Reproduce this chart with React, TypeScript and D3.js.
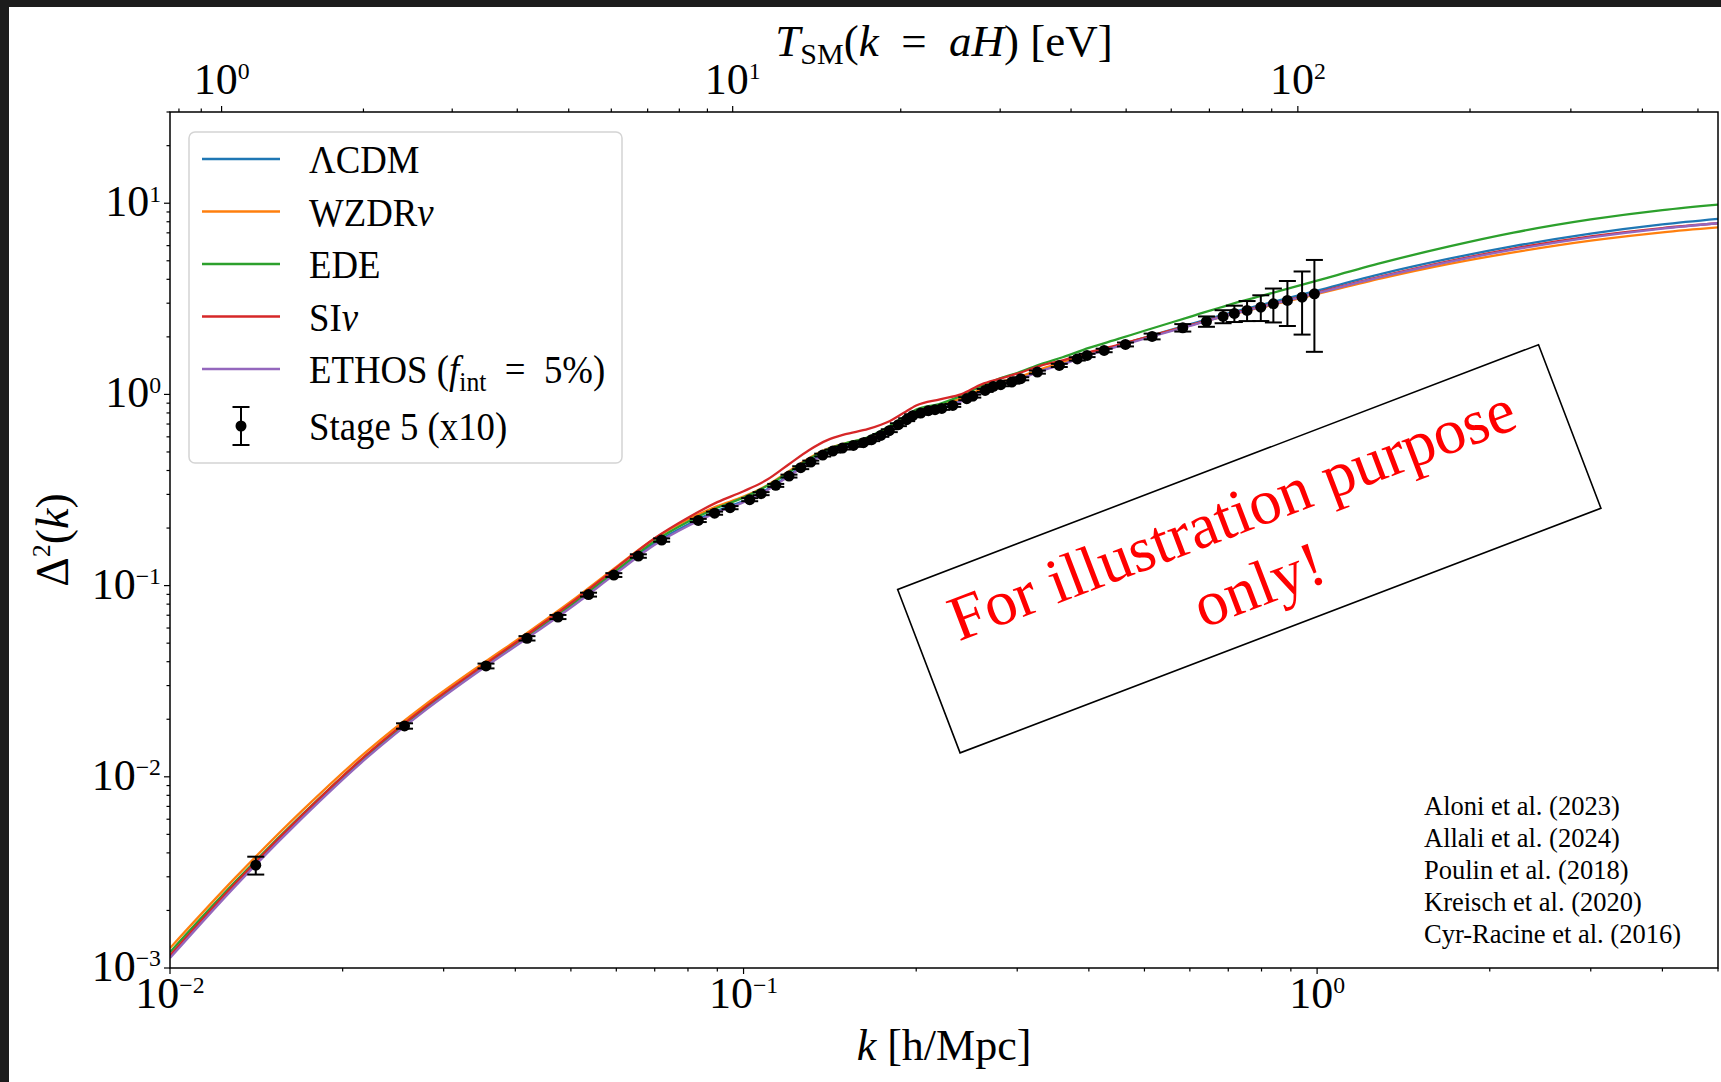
import * as d3 from "d3";

const SERIF = '"Liberation Serif", "Times New Roman", serif';

// plot box in page pixels
const X0 = 170;
const X1 = 1718;
const Y0 = 112;
const Y1 = 968;

const kGrid = [
  0.01, 0.013, 0.017, 0.022, 0.028, 0.035, 0.042, 0.05, 0.06, 0.07, 0.08, 0.09,
  0.1, 0.11, 0.12, 0.13, 0.14, 0.15, 0.165, 0.18, 0.19, 0.2, 0.22, 0.24, 0.26,
  0.28, 0.3, 0.33, 0.36, 0.4, 0.45, 0.5, 0.6, 0.7, 0.8, 1.0, 1.3, 1.7, 2.2, 3.0,
  4.0, 5.0,
];

// Delta^2(k) for each model
const lcdm = [
  0.001147, 0.002728, 0.006185, 0.01274, 0.02294, 0.03731, 0.05418, 0.07821,
  0.1183, 0.1666, 0.2089, 0.2466, 0.2765, 0.3195, 0.378, 0.4422, 0.498, 0.5334,
  0.5775, 0.6569, 0.7286, 0.7936, 0.851, 0.9337, 1.042, 1.135, 1.202, 1.341,
  1.456, 1.628, 1.803, 1.984, 2.325, 2.658, 2.937, 3.493, 4.284, 5.128, 5.959,
  6.938, 7.754, 8.287,
];
const wzdr = [
  0.001271, 0.002968, 0.00665, 0.01353, 0.02411, 0.03891, 0.05672, 0.08258,
  0.1254, 0.1763, 0.2216, 0.2604, 0.2919, 0.3352, 0.3967, 0.464, 0.5195, 0.553,
  0.5952, 0.673, 0.7464, 0.813, 0.8718, 0.9566, 1.067, 1.163, 1.224, 1.358,
  1.474, 1.638, 1.803, 1.979, 2.297, 2.6, 2.849, 3.35, 4.057, 4.816, 5.53, 6.37,
  7.042, 7.471,
];
const ede = [
  0.001211, 0.002829, 0.006337, 0.01294, 0.02316, 0.03744, 0.05452, 0.07906,
  0.1202, 0.1709, 0.2158, 0.2554, 0.2884, 0.3325, 0.3919, 0.4585, 0.5164, 0.553,
  0.5988, 0.6852, 0.7599, 0.8327, 0.893, 0.9856, 1.106, 1.213, 1.293, 1.442,
  1.565, 1.75, 1.95, 2.153, 2.545, 2.934, 3.273, 3.939, 4.889, 5.946, 7.019,
  8.229, 9.211, 9.842,
];
const sinu = [
  0.001161, 0.002771, 0.006299, 0.01302, 0.02342, 0.03789, 0.05551, 0.08091,
  0.1239, 0.177, 0.2265, 0.2732, 0.3118, 0.3586, 0.4316, 0.511, 0.5768, 0.6178,
  0.6601, 0.7267, 0.7985, 0.875, 0.9428, 1.004, 1.129, 1.208, 1.285, 1.416,
  1.509, 1.658, 1.814, 1.979, 2.297, 2.616, 2.884, 3.41, 4.155, 4.977, 5.788,
  6.706, 7.416, 7.859,
];
const ethos = [
  0.001127, 0.00268, 0.006075, 0.01251, 0.02253, 0.03664, 0.05322, 0.07682,
  0.1162, 0.1636, 0.2052, 0.2422, 0.2732, 0.3157, 0.3736, 0.437, 0.4921, 0.527,
  0.5706, 0.6491, 0.72, 0.7842, 0.8408, 0.9226, 1.029, 1.121, 1.188, 1.325,
  1.438, 1.609, 1.782, 1.955, 2.284, 2.6, 2.866, 3.39, 4.13, 4.935, 5.719, 6.626,
  7.372, 7.859,
];

// Stage 5 (x10) mock points
const dataK = [
  0.01411, 0.02564, 0.03556, 0.04192, 0.04747, 0.05367, 0.05941, 0.06555,
  0.07198, 0.08337, 0.08902, 0.09473, 0.1025, 0.1073, 0.1138, 0.12, 0.1258,
  0.131, 0.1374, 0.1431, 0.1487, 0.1554, 0.1618, 0.1673, 0.1735, 0.1795, 0.1862,
  0.1925, 0.1972, 0.2037, 0.21, 0.2157, 0.2216, 0.2316, 0.245, 0.251, 0.2637,
  0.2726, 0.2808, 0.2935, 0.3043, 0.3253, 0.3552, 0.3818, 0.3971, 0.4253,
  0.4633, 0.5156, 0.5832, 0.6413, 0.6856, 0.7174, 0.7549, 0.7977, 0.839, 0.8876,
  0.9415, 0.9892,
];
const dataVal = [
  0.003451, 0.01845, 0.038, 0.05302, 0.06853, 0.08973, 0.1136, 0.1428, 0.1731,
  0.2192, 0.2393, 0.2557, 0.2815, 0.3027, 0.3344, 0.374, 0.4138, 0.4427, 0.4816,
  0.5054, 0.524, 0.5413, 0.5591, 0.5797, 0.6105, 0.646, 0.6945, 0.7375, 0.7739,
  0.7984, 0.8218, 0.8318, 0.8449, 0.8761, 0.9496, 0.9797, 1.0493, 1.1011,
  1.1238, 1.1596, 1.208, 1.308, 1.4182, 1.5334, 1.5995, 1.6983, 1.8255, 2.0101,
  2.2319, 2.4077, 2.557, 2.651, 2.7485, 2.8598, 2.9791, 3.0997, 3.2253, 3.36,
];
const dataErr = [
  0.00037, 0.0006, 0.0011, 0.0014, 0.0017, 0.0021, 0.0026, 0.003, 0.0035,
  0.0042, 0.0045, 0.0048, 0.0052, 0.0055, 0.006, 0.0066, 0.0072, 0.0077, 0.0083,
  0.0087, 0.009, 0.0093, 0.0096, 0.01, 0.0105, 0.011, 0.012, 0.0127, 0.0133,
  0.0138, 0.0142, 0.0144, 0.0147, 0.0153, 0.0167, 0.0173, 0.0187, 0.0197,
  0.0202, 0.021, 0.0221, 0.0243, 0.027, 0.03, 0.032, 0.036, 0.043, 0.07, 0.1,
  0.15, 0.2, 0.26, 0.33, 0.44, 0.6, 0.82, 1.17, 1.69,
];

const refs = [
  "Aloni et al. (2023)",
  "Allali et al. (2024)",
  "Poulin et al. (2018)",
  "Kreisch et al. (2020)",
  "Cyr-Racine et al. (2016)",
];

// top axis: temperature at horizon entry, k = aH (radiation + matter)
const K_PER_EV = 0.00922;
const T_EQ = 0.78;
const kOfT = (t: number) => K_PER_EV * t * Math.sqrt(1 + T_EQ / t);
const tMajor = [1, 10, 100];

const series = [
  { key: "lcdm", color: "#1f77b4", values: lcdm },
  { key: "wzdr", color: "#ff7f0e", values: wzdr },
  { key: "ede", color: "#2ca02c", values: ede },
  { key: "sinu", color: "#d62728", values: sinu },
  { key: "ethos", color: "#9467bd", values: ethos },
];

function Pow10({ x, y, exp, anchor, size }: { x: number; y: number; exp: number; anchor: string; size: number }) {
  const label = exp < 0 ? "\u2212" + Math.abs(exp) : String(exp);
  return (
    <text x={x} y={y} fontSize={size} textAnchor={anchor} fontFamily={SERIF} fill="#000">
      10
      <tspan fontSize={size * 0.54} dy={-size * 0.33}>
        {label}
      </tspan>
    </text>
  );
}

export default function App() {
  const x = d3.scaleLog().domain([0.01, 5]).range([X0, X1]);
  const y = d3.scaleLog().domain([1e-3, 30]).range([Y1, Y0]);

  const line = d3
    .line<number>()
    .x((_, i) => x(kGrid[i]))
    .y((d) => y(d))
    .curve(d3.curveMonotoneX);

  const xMinor = d3
    .range(-2, 1)
    .flatMap((e) => d3.range(2, 10).map((m) => m * Math.pow(10, e)))
    .filter((v) => v <= 5);
  const yMinor = d3
    .range(-3, 2)
    .flatMap((e) => d3.range(2, 10).map((m) => m * Math.pow(10, e)))
    .filter((v) => v <= 30);
  const tMinor = [0.1, 1, 10, 100]
    .flatMap((d) => d3.range(2, 10).map((m) => m * d))
    .filter((t) => kOfT(t) >= 0.01 && kOfT(t) <= 5);

  const legendRows = [
    { color: "#1f77b4", label: <>ΛCDM</> },
    { color: "#ff7f0e", label: <>WZDR<tspan fontStyle="italic">ν</tspan></> },
    { color: "#2ca02c", label: <>EDE</> },
    { color: "#d62728", label: <>SI<tspan fontStyle="italic">ν</tspan></> },
    {
      color: "#9467bd",
      label: (
        <>
          ETHOS (<tspan fontStyle="italic">f</tspan>
          <tspan fontSize={28} dy={8}>int</tspan>
          <tspan dy={-8}>{"\u2002=\u20025%)"}</tspan>
        </>
      ),
    },
  ];

  const legendText = (label: any, yy: number) => (
    <text
      transform={`translate(309,${yy}) scale(0.92,1)`}
      fontSize={40}
      fontFamily={SERIF}
      fill="#000"
    >
      {label}
    </text>
  );

  return (
    <svg
      width={1721}
      height={1082}
      style={{ position: "absolute", left: 0, top: 0, background: "#fff" }}
    >
      <rect x={0} y={0} width={1721} height={1082} fill="#fff" />
      <defs>
        <clipPath id="plotClip">
          <rect x={X0} y={Y0} width={X1 - X0} height={Y1 - Y0} />
        </clipPath>
      </defs>

      {/* model curves */}
      <g clipPath="url(#plotClip)" fill="none" strokeWidth={2.3}>
        {series.map((s) => (
          <path key={s.key} d={line(s.values) || ""} stroke={s.color} />
        ))}
      </g>

      {/* Stage 5 points */}
      <g stroke="#000" strokeWidth={2}>
        {dataK.map((k, i) => {
          const cx = x(k);
          const yt = y(dataVal[i] + dataErr[i]);
          const yb = y(dataVal[i] - dataErr[i]);
          return (
            <g key={i}>
              <line x1={cx} x2={cx} y1={yt} y2={yb} />
              <line x1={cx - 8.5} x2={cx + 8.5} y1={yt} y2={yt} />
              <line x1={cx - 8.5} x2={cx + 8.5} y1={yb} y2={yb} />
              <circle cx={cx} cy={y(dataVal[i])} r={5.5} fill="#000" stroke="none" />
            </g>
          );
        })}
      </g>

      {/* frame */}
      <rect x={X0} y={Y0} width={X1 - X0} height={Y1 - Y0} fill="none" stroke="#000" strokeWidth={1.5} />

      {/* ticks */}
      <g stroke="#000" strokeWidth={1.2}>
        {[0.01, 0.1, 1].map((v) => (
          <line key={v} x1={x(v)} x2={x(v)} y1={Y1} y2={Y1 + 6} />
        ))}
        {xMinor.map((v) => (
          <line key={v} x1={x(v)} x2={x(v)} y1={Y1} y2={Y1 + 3.5} />
        ))}
        {[1e-3, 1e-2, 0.1, 1, 10].map((v) => (
          <line key={v} x1={X0} x2={X0 - 6} y1={y(v)} y2={y(v)} />
        ))}
        {yMinor.map((v) => (
          <line key={v} x1={X0} x2={X0 - 3.5} y1={y(v)} y2={y(v)} />
        ))}
        {tMajor.map((t) => (
          <line key={t} x1={x(kOfT(t))} x2={x(kOfT(t))} y1={Y0} y2={Y0 - 6} />
        ))}
        {tMinor.map((t) => (
          <line key={t} x1={x(kOfT(t))} x2={x(kOfT(t))} y1={Y0} y2={Y0 - 3.5} />
        ))}
      </g>

      {[-2, -1, 0].map((e) => (
        <Pow10 key={e} x={x(Math.pow(10, e))} y={1008} exp={e} anchor="middle" size={44} />
      ))}
      {[-3, -2, -1, 0, 1].map((e) => (
        <Pow10 key={e} x={161} y={y(Math.pow(10, e)) + 13} exp={e} anchor="end" size={44} />
      ))}
      {[0, 1, 2].map((e, i) => (
        <Pow10 key={e} x={x(kOfT(tMajor[i]))} y={94} exp={e} anchor="middle" size={44} />
      ))}

      {/* axis titles */}
      <text x={(X0 + X1) / 2} y={1060} fontSize={44} textAnchor="middle" fontFamily={SERIF}>
        <tspan fontStyle="italic">k</tspan> [h/Mpc]
      </text>
      <text x={(X0 + X1) / 2} y={56} fontSize={45} textAnchor="middle" fontFamily={SERIF}>
        <tspan fontStyle="italic">T</tspan>
        <tspan fontSize={30} dy={8}>SM</tspan>
        <tspan dy={-8}>(</tspan>
        <tspan fontStyle="italic">k</tspan>
        {"\u2002=\u2002"}
        <tspan fontStyle="italic">aH</tspan>) [eV]
      </text>
      <text
        transform={`translate(68,${(Y0 + Y1) / 2}) rotate(-90)`}
        fontSize={46}
        textAnchor="middle"
        fontFamily={SERIF}
      >
        Δ<tspan fontSize={26} dy={-18}>2</tspan>
        <tspan dy={18}>(</tspan>
        <tspan fontStyle="italic">k</tspan>)
      </text>

      {/* legend */}
      <rect x={189} y={132} width={433} height={331} rx={6} fill="#fff" fillOpacity={0.8} stroke="#d4d4d4" strokeWidth={1.5} />
      {legendRows.map((r, i) => {
        const cy = 159 + i * 52.5;
        return (
          <g key={i}>
            <line x1={202} x2={280} y1={cy} y2={cy} stroke={r.color} strokeWidth={2.3} />
            {legendText(r.label, cy + 14)}
          </g>
        );
      })}
      <g stroke="#000" strokeWidth={2}>
        <line x1={241} x2={241} y1={407} y2={445} />
        <line x1={232.5} x2={249.5} y1={407} y2={407} />
        <line x1={232.5} x2={249.5} y1={445} y2={445} />
        <circle cx={241} cy={426} r={5.5} fill="#000" stroke="none" />
      </g>
      {legendText(<>Stage 5 (x10)</>, 440)}

      {/* watermark */}
      <g transform="translate(1249.3,548.8) rotate(-20.9)">
        <rect x={-343} y={-87.5} width={686} height={175} fill="none" stroke="#000" strokeWidth={1.6} />
        <text x={-4} y={-17} fontSize={64} textAnchor="middle" fontFamily={SERIF} fill="#ff0000">
          For illustration purpose
        </text>
        <text x={-4} y={58} fontSize={64} textAnchor="middle" fontFamily={SERIF} fill="#ff0000">
          only!
        </text>
      </g>

      {/* references */}
      {refs.map((r, i) => (
        <text key={r} x={1424} y={815 + i * 32} fontSize={26.5} fontFamily={SERIF} fill="#000">
          {r}
        </text>
      ))}

      {/* screenshot frame */}
      <rect x={0} y={0} width={1721} height={7} fill="#1c1c1c" />
      <rect x={0} y={0} width={9} height={1082} fill="#1c1c1c" />
    </svg>
  );
}
